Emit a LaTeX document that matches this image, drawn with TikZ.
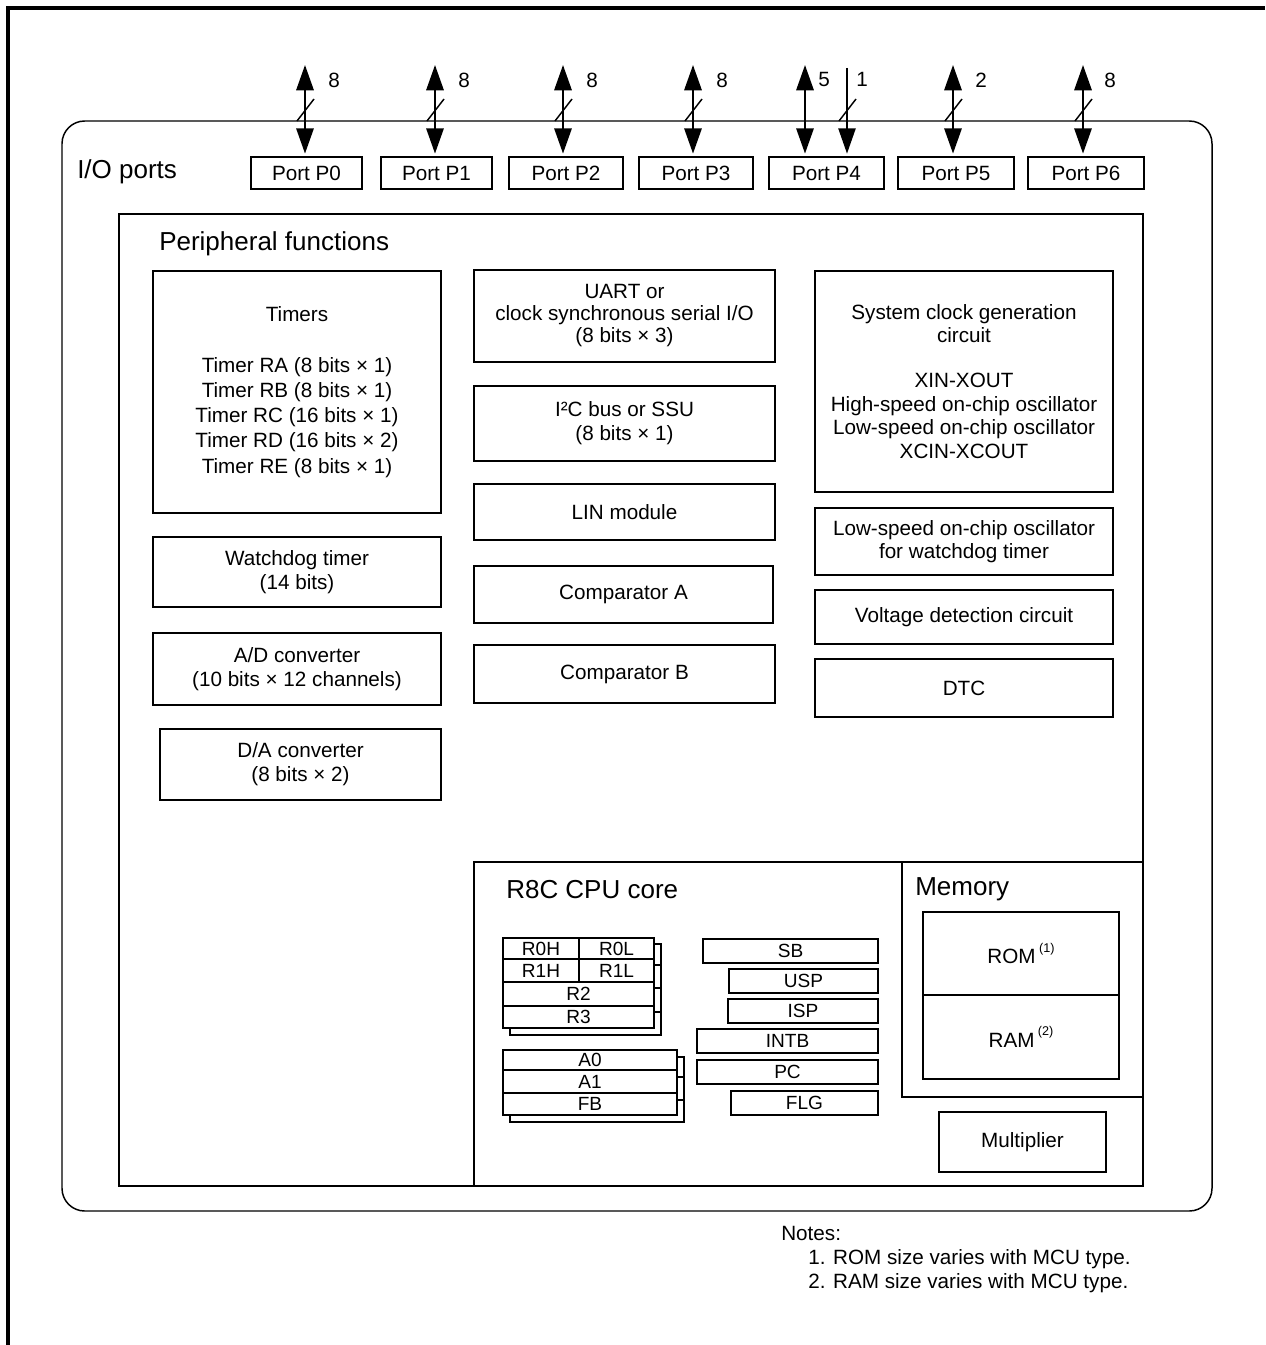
\documentclass[tikz,border=0pt]{standalone}
\usepackage{fontspec}
\setmainfont{Liberation Sans}
\usetikzlibrary{arrows.meta,calc}
\newcommand{\mybox}[7][]{\node[box,minimum width={(#5-#3)*0.75pt},minimum height={(#6-#4)*0.75pt},#1] (#2) at ({(#3+#5)/2},{(#4+#6)/2}) {#7};}
\newcommand{\myreg}[7][]{\node[reg,minimum width={(#5-#3)*0.75pt},minimum height={(#6-#4)*0.75pt},#1] (#2) at ({(#3+#5)/2},{(#4+#6)/2}) {#7};}
\newcommand{\supnote}[1]{\,\raisebox{0.55em}{\fontsize{9.5}{10}\selectfont(#1)}}
\begin{document}
\begin{tikzpicture}[x=0.75pt,y=-0.75pt,
  box/.style={draw, line width=1.1pt, inner sep=0pt, align=center, font=\fontsize{15.5}{18}\selectfont},
  reg/.style={draw, line width=1.1pt, inner sep=0pt, fill=white, font=\fontsize{14.3}{15}\selectfont},
  lbl/.style={inner sep=0pt, font=\fontsize{15.5}{18}\selectfont},
  note/.style={inner sep=0pt, anchor=west, font=\fontsize{15.5}{18}\selectfont},
  ttl/.style={inner sep=0pt, anchor=west, font=\fontsize{19.5}{22}\selectfont},
  bus/.style={line width=1.6pt, {Triangle[length=19pt,width=13pt]}-{Triangle[length=19pt,width=13pt]}, shorten >=2pt},
  busin/.style={line width=1.1pt, -{Triangle[length=19pt,width=13pt]}, shorten >=2pt},
  slash/.style={line width=1.1pt}]
\useasboundingbox (0,0) rectangle (1265,1345);
% page frame
\draw[line width=2.4pt] (8,1345) -- (8,8) -- (1265,8);
% outer I/O box
\mybox[rounded corners=17pt]{io}{62}{121}{1212}{1211}{}
\node[ttl] (iot) at (77,172) {I/O ports};
% ports
\mybox{p0}{251}{157}{362}{189}{Port P0}
\mybox{p1}{381}{157}{492}{189}{Port P1}
\mybox{p2}{509}{157}{623}{189}{Port P2}
\mybox{p3}{639}{157}{753}{189}{Port P3}
\mybox{p4}{769}{157}{884}{189}{Port P4}
\mybox{p5}{898}{157}{1014}{189}{Port P5}
\mybox{p6}{1028}{157}{1144}{189}{Port P6}
% bus arrows
\coordinate (a0) at (305,65);
\coordinate (a1) at (435,65);
\coordinate (a2) at (563,65);
\coordinate (a3) at (693,65);
\coordinate (a4) at (805,65);
\coordinate (a4b) at (847,68);
\coordinate (a5) at (953,65);
\coordinate (a6) at (1083,65);
\draw[bus] (a0) -- (a0 |- p0.north);
\draw[bus] (a1) -- (a1 |- p1.north);
\draw[bus] (a2) -- (a2 |- p2.north);
\draw[bus] (a3) -- (a3 |- p3.north);
\draw[bus] (a4) -- (a4 |- p4.north);
\draw[busin] (a4b) -- (a4b |- p4.north);
\draw[bus] (a5) -- (a5 |- p5.north);
\draw[bus] (a6) -- (a6 |- p6.north);
% slashes
\draw[slash] (297,121) -- (314,99);
\draw[slash] (427,121) -- (444,99);
\draw[slash] (555,121) -- (572,99);
\draw[slash] (685,121) -- (702,99);
\draw[slash] (839,121) -- (856,99);
\draw[slash] (945,121) -- (962,99);
\draw[slash] (1075,121) -- (1092,99);
% bus widths
\node[lbl] (n0) at (334,80) {8};
\node[lbl] (n1) at (464,80) {8};
\node[lbl] (n2) at (592,80) {8};
\node[lbl] (n3) at (722,80) {8};
\node[lbl] (n4) at (824,79) {5};
\node[lbl] (n4b) at (862,79) {1};
\node[lbl] (n5) at (981,80) {2};
\node[lbl] (n6) at (1110,80) {8};
% peripheral functions
\mybox{periph}{119}{214}{1143}{1186}{}
\node[ttl] (periphT) at (159,244) {Peripheral functions};
\mybox[font=\fontsize{15.5}{18.9}\selectfont]{timers}{153}{271}{441}{513}{Timers\\[19pt]Timer RA (8 bits × 1)\\Timer RB (8 bits × 1)\\Timer RC (16 bits × 1)\\Timer RD (16 bits × 2)\\Timer RE (8 bits × 1)}
\mybox{wdt}{153}{537}{441}{607}{Watchdog timer\\(14 bits)}
\mybox{adc}{153}{633}{441}{705}{A/D converter\\(10 bits × 12 channels)}
\mybox{dac}{160}{729}{441}{800}{D/A converter\\(8 bits × 2)}
\mybox[font=\fontsize{15.5}{16.5}\selectfont]{uart}{474}{270}{775}{362}{UART or\\clock synchronous serial I/O\\(8 bits × 3)}
\mybox{iic}{474}{386}{775}{461}{I²C bus or SSU\\(8 bits × 1)}
\mybox{lin}{474}{484}{775}{540}{LIN module}
\mybox{cmpa}{474}{566}{773}{623}{Comparator A}
\mybox{cmpb}{474}{645}{775}{703}{Comparator B}
\mybox[font=\fontsize{15.5}{17.7}\selectfont]{clk}{815}{271}{1113}{492}{System clock generation\\circuit\\[16pt]XIN-XOUT\\High-speed on-chip oscillator\\Low-speed on-chip oscillator\\XCIN-XCOUT}
\mybox[font=\fontsize{15.5}{17.3}\selectfont]{losc}{815}{508}{1113}{575}{Low-speed on-chip oscillator\\for watchdog timer}
\mybox{vdet}{815}{590}{1113}{644}{Voltage detection circuit}
\mybox{dtc}{815}{659}{1113}{717}{DTC}
% CPU core
\mybox{cpu}{474}{862}{1143}{1186}{}
\node[ttl] (cpuT) at (506,890) {R8C CPU core};
% register bank (back copy)
\myreg{r0hb}{510}{944}{586}{965}{}
\myreg{r0lb}{586}{944}{661}{965}{}
\myreg{r1hb}{510}{965}{586}{988}{}
\myreg{r1lb}{586}{965}{661}{988}{}
\myreg{r2b}{510}{988}{661}{1012}{}
\myreg{r3b}{510}{1012}{661}{1035}{}
% register bank (front)
\myreg{r0h}{503}{938}{579}{959}{R0H}
\myreg{r0l}{579}{938}{654}{959}{R0L}
\myreg{r1h}{503}{959}{579}{982}{R1H}
\myreg{r1l}{579}{959}{654}{982}{R1L}
\myreg{r2}{503}{982}{654}{1006}{R2}
\myreg{r3}{503}{1006}{654}{1028}{R3}
% address registers (back)
\myreg{a0b}{510}{1057}{684}{1077}{}
\myreg{a1b}{510}{1077}{684}{1100}{}
\myreg{fbb}{510}{1100}{684}{1122}{}
% address registers (front)
\myreg{ra0}{503}{1050}{677}{1070}{A0}
\myreg{ra1}{503}{1070}{677}{1093}{A1}
\myreg{rfb}{503}{1093}{677}{1115}{FB}
% dedicated registers
\myreg{sb}{703}{939}{878}{963}{SB}
\myreg{usp}{729}{969}{878}{993}{USP}
\myreg{isp}{728}{999}{878}{1023}{ISP}
\myreg{intb}{697}{1029}{878}{1053}{INTB}
\myreg{pc}{697}{1060}{878}{1084}{PC}
\myreg{flg}{731}{1091}{878}{1115}{FLG}
% memory
\mybox{mem}{902}{862}{1143}{1097}{}
\node[ttl] (memT) at (915,889) {Memory};
\mybox{rom}{923}{912}{1119}{995}{ROM\supnote{1}}
\mybox{ram}{923}{995}{1119}{1079}{RAM\supnote{2}}
\mybox{mul}{939}{1112}{1106}{1172}{Multiplier}
% notes
\node[note] (notes) at (781,1233) {Notes:};
\node[note] (note1) at (808,1259) {1. ROM size varies with MCU type.};
\node[note] (note2) at (808,1283) {2. RAM size varies with MCU type.};
\end{tikzpicture}
\end{document}
